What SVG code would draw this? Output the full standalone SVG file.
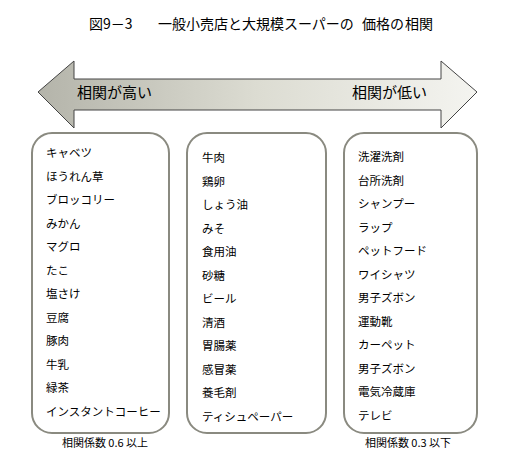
<svg xmlns="http://www.w3.org/2000/svg" width="507" height="473" viewBox="0 0 507 473">
<style>
text{font-family:"Noto Sans CJK JP","Noto Sans CJK SC",sans-serif;fill:#000}
.t{font-size:14px}
.a{font-size:15px}
.i{font-size:11.5px}
.f{font-size:11px}
.box{fill:#fff;stroke:#8a8a80;stroke-width:2}
</style>
<defs>
<linearGradient id="g" x1="0" x2="1" y1="0" y2="0">
<stop offset="0" stop-color="#b4b4aa"/>
<stop offset="0.5" stop-color="#dcdcd2"/>
<stop offset="1" stop-color="#f4f4f0"/>
</linearGradient>
</defs>
<rect width="507" height="473" fill="#fff"/>
<g id="title">
<text class="t" x="89" y="29">図9－3</text>
<text class="t" x="158" y="29">一般小売店と大規模スーパーの</text>
<text class="t" x="362" y="29">価格の</text>
<text class="t" x="405" y="29">相関</text>
</g>
<g id="connectors">
<path d="M38,92 L74,61 L74,79 L441,79 L441,61 L477,92 L441,128 L441,110 L74,110 L74,128 Z" fill="url(#g)" stroke="#444" stroke-width="1"/>
<text class="a" x="77" y="98">相関が高い</text>
<text class="a" x="352" y="98">相関が低い</text>
</g>
<g id="box1">
<rect class="box" x="32" y="133" width="137" height="300" rx="20"/>
<text class="i" x="46" y="157">キャベツ</text>
<text class="i" x="46" y="180.5">ほうれん草</text>
<text class="i" x="46" y="204">ブロッコリー</text>
<text class="i" x="46" y="227.5">みかん</text>
<text class="i" x="46" y="251">マグロ</text>
<text class="i" x="46" y="274.5">たこ</text>
<text class="i" x="46" y="298">塩さけ</text>
<text class="i" x="46" y="321.5">豆腐</text>
<text class="i" x="46" y="345">豚肉</text>
<text class="i" x="46" y="368.5">牛乳</text>
<text class="i" x="46" y="392">緑茶</text>
<text class="i" x="46" y="415.5">インスタントコーヒー</text>
<text class="f" x="105" y="447" text-anchor="middle">相関係数 0.6 以上</text>
</g>
<g id="box2">
<rect class="box" x="187" y="133" width="139" height="300" rx="20"/>
<text class="i" x="202" y="162">牛肉</text>
<text class="i" x="202" y="185.5">鶏卵</text>
<text class="i" x="202" y="209">しょう油</text>
<text class="i" x="202" y="232.5">みそ</text>
<text class="i" x="202" y="256">食用油</text>
<text class="i" x="202" y="279.5">砂糖</text>
<text class="i" x="202" y="303">ビール</text>
<text class="i" x="202" y="326.5">清酒</text>
<text class="i" x="202" y="350">胃腸薬</text>
<text class="i" x="202" y="373.5">感冒薬</text>
<text class="i" x="202" y="397">養毛剤</text>
<text class="i" x="202" y="420.5">ティシュペーパー</text>
</g>
<g id="box3">
<rect class="box" x="344" y="133" width="133" height="300" rx="20"/>
<text class="i" x="358" y="161">洗濯洗剤</text>
<text class="i" x="358" y="184.5">台所洗剤</text>
<text class="i" x="358" y="208">シャンプー</text>
<text class="i" x="358" y="231.5">ラップ</text>
<text class="i" x="358" y="255">ペットフード</text>
<text class="i" x="358" y="278.5">ワイシャツ</text>
<text class="i" x="358" y="302">男子ズボン</text>
<text class="i" x="358" y="325.5">運動靴</text>
<text class="i" x="358" y="349">カーペット</text>
<text class="i" x="358" y="372.5">男子ズボン</text>
<text class="i" x="358" y="396">電気冷蔵庫</text>
<text class="i" x="358" y="419.5">テレビ</text>
<text class="f" x="408" y="447" text-anchor="middle">相関係数 0.3 以下</text>
</g>
</svg>
